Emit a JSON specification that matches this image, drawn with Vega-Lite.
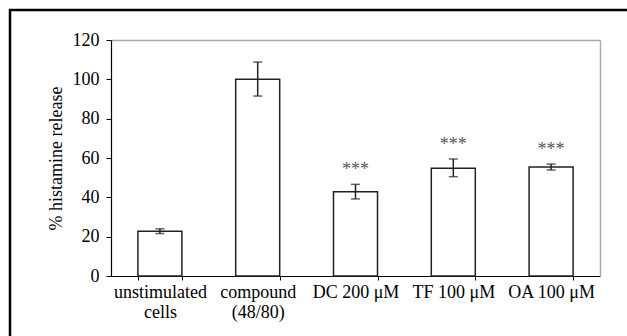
{
  "$schema": "https://vega.github.io/schema/vega-lite/v6.json",
  "autosize": "none",
  "width": 630,
  "height": 340,
  "padding": {"left": 10, "top": 10, "right": 0, "bottom": 0},
  "background": "white",
  "config": {
    "view": {"stroke": "black", "strokeWidth": 2.5},
    "font": "Liberation Serif",
    "axis": {"labelFont": "Liberation Serif", "titleFont": "Liberation Serif", "labelColor": "black", "titleColor": "black", "domainColor": "black", "tickColor": "black", "grid": false}
  },
  "data": {
    "values": [
      {"group": "unstimulated|cells", "mean": 22.7, "lo": 21.6, "hi": 24.0, "sig": ""},
      {"group": "compound|(48/80)", "mean": 100.0, "lo": 91.5, "hi": 108.8, "sig": ""},
      {"group": "DC 200 μM", "mean": 42.9, "lo": 39.2, "hi": 46.6, "sig": "***"},
      {"group": "TF 100 μM", "mean": 54.8, "lo": 50.5, "hi": 59.5, "sig": "***"},
      {"group": "OA 100 μM", "mean": 55.4, "lo": 53.9, "hi": 56.9, "sig": "***"}
    ]
  },
  "resolve": {"axis": {"x": "independent", "y": "independent"}},
  "layer": [
    {
      "mark": {"type": "bar", "fill": "white", "stroke": "#222", "strokeWidth": 1.5},
      "encoding": {
        "x": {
          "field": "group", "type": "nominal", "sort": null,
          "scale": {"range": [101, 590], "paddingInner": 0.55, "paddingOuter": 0.275},
          "axis": {
            "orient": "bottom", "offset": -74, "title": null, "labelAngle": 0,
            "labelExpr": "split(datum.label, '|')", "labelFontSize": 18, "labelLineHeight": 20,
            "tickBand": "extent", "tickSize": 4, "labelPadding": 3, "domainWidth": 1.2
          }
        },
        "y": {
          "field": "mean", "type": "quantitative",
          "scale": {"domain": [0, 120], "range": [266, 30], "nice": false},
          "axis": {
            "orient": "left", "offset": -101, "title": "% histamine release",
            "values": [0, 20, 40, 60, 80, 100, 120], "labelFontSize": 18, "titleFontSize": 18,
            "titleFontWeight": "normal", "tickSize": 5, "labelPadding": 7, "titlePadding": 7, "domainWidth": 1.2
          }
        }
      }
    },
    {
      "mark": {"type": "rule", "stroke": "#222", "strokeWidth": 1.5},
      "encoding": {
        "x": {"field": "group", "type": "nominal", "sort": null, "axis": null},
        "y": {"field": "lo", "type": "quantitative", "axis": null},
        "y2": {"field": "hi"}
      }
    },
    {
      "mark": {"type": "tick", "color": "#222", "thickness": 1.5, "size": 9, "orient": "horizontal"},
      "encoding": {
        "x": {"field": "group", "type": "nominal", "sort": null, "axis": null},
        "y": {"field": "lo", "type": "quantitative", "axis": null}
      }
    },
    {
      "mark": {"type": "tick", "color": "#222", "thickness": 1.5, "size": 9, "orient": "horizontal"},
      "encoding": {
        "x": {"field": "group", "type": "nominal", "sort": null, "axis": null},
        "y": {"field": "hi", "type": "quantitative", "axis": null}
      }
    },
    {
      "mark": {"type": "text", "font": "Liberation Serif", "fontSize": 18, "color": "#555", "baseline": "middle", "dy": -14},
      "encoding": {
        "x": {"field": "group", "type": "nominal", "sort": null, "axis": null},
        "y": {"field": "hi", "type": "quantitative", "axis": null},
        "text": {"field": "sig"}
      }
    },
    {
      "mark": {"type": "point", "opacity": 0},
      "encoding": {
        "x": {
          "field": "group", "type": "nominal", "sort": null,
          "axis": {"orient": "top", "offset": -30, "title": null, "labels": false, "ticks": false, "domainColor": "#aaa", "domainWidth": 1.5}
        },
        "y": {
          "field": "mean", "type": "quantitative",
          "axis": {"orient": "right", "offset": -40, "title": null, "labels": false, "ticks": false, "domainColor": "#aaa", "domainWidth": 1.5}
        }
      }
    }
  ]
}
